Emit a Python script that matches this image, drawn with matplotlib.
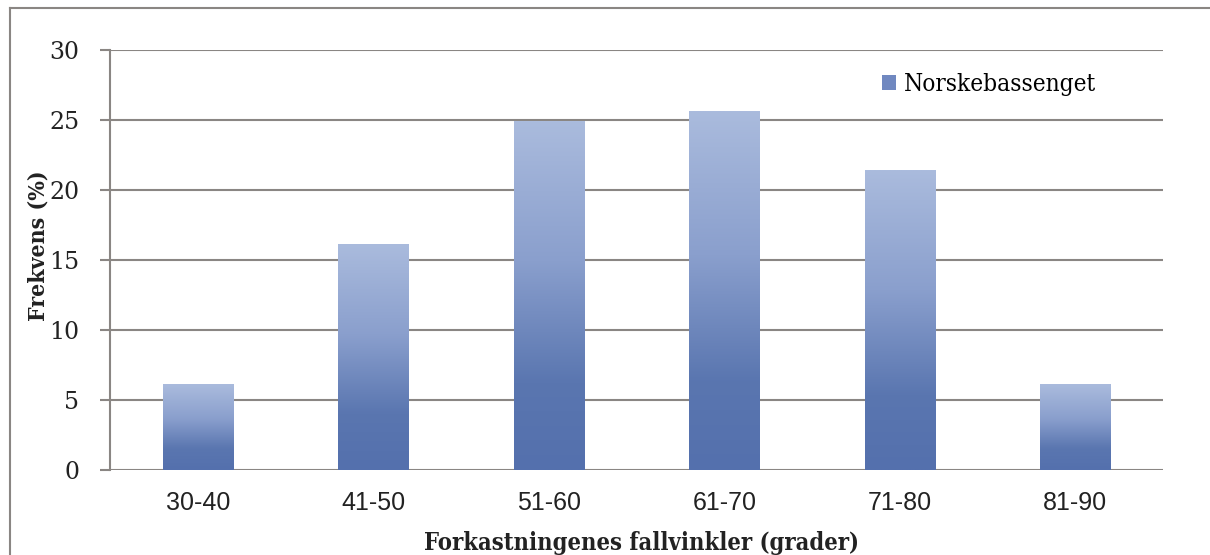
import numpy as np
import matplotlib
matplotlib.use("Agg")
import matplotlib.pyplot as plt
from matplotlib.colors import LinearSegmentedColormap
from matplotlib.lines import Line2D
from matplotlib.patches import Patch
from matplotlib import font_manager

categories = ["30-40", "41-50", "51-60", "61-70", "71-80", "81-90"]
values = [6.1, 16.1, 24.9, 25.6, 21.4, 6.1]
series_name = "Norskebassenget"
yticks = [0, 5, 10, 15, 20, 25, 30]

has_cond = any(f.name == "DejaVu Serif" and f.stretch == "condensed"
               for f in font_manager.fontManager.ttflist)
stretch = "condensed" if has_cond else "normal"

W, H = 1210, 555
fig = plt.figure(figsize=(W / 100, H / 100), dpi=100)
fig.patch.set_facecolor("white")
ax = fig.add_axes([110 / W, 1 - 470 / H, (1163 - 110) / W, (470 - 50) / H])

serif = ["DejaVu Serif"]
grid_col = "#8a8683"
txt = "#222222"

cmap = LinearSegmentedColormap.from_list(
    "grad", [(0.0, "#5470ad"), (0.25, "#5a76b0"), (0.6, "#8a9fcd"), (1.0, "#aabbdd")])
grad = np.linspace(0, 1, 256).reshape(-1, 1)

x = np.arange(len(categories))
bw = 0.4
bars = ax.bar(x, values, width=bw, color="none", zorder=3)
for b in bars:
    x0, y0 = b.get_x(), b.get_y()
    ax.imshow(grad, cmap=cmap, origin="lower", aspect="auto",
              extent=[x0, x0 + b.get_width(), y0, y0 + b.get_height()],
              zorder=3, interpolation="bilinear")

ax.set_xlim(-0.5, len(categories) - 0.5)
ax.set_ylim(0, 30)
ax.set_yticks(yticks)
ax.set_yticklabels([str(t) for t in yticks], fontfamily=serif, fontsize=17, color=txt)
ax.set_xticks(x)
ax.set_xticklabels(categories, fontfamily=["Liberation Sans"], fontsize=18, color=txt)
ax.tick_params(axis="x", length=0, pad=15)
ax.tick_params(axis="y", length=7, width=1.5, color=grid_col, pad=15)
ax.yaxis.grid(True, color=grid_col, linewidth=1.5, zorder=1)
ax.set_axisbelow(True)
for s in ["top", "right", "bottom"]:
    ax.spines[s].set_visible(False)
ax.spines["left"].set_color(grid_col)
ax.spines["left"].set_linewidth(1.5)

ax.set_ylabel("Frekvens (%)", fontfamily=serif, fontweight="bold", fontsize=16.5,
              fontstretch=stretch, color=txt)
ax.yaxis.set_label_coords(-60 / 1053, 0.535)
ax.set_xlabel("Forkastningenes fallvinkler (grader)", fontfamily=serif,
              fontweight="bold", fontsize=17, fontstretch=stretch, color=txt)
ax.xaxis.set_label_coords(0.505, -61 / 420)

handle = Patch(facecolor="#7088c0", edgecolor="none")
ax.legend([handle], [series_name], loc="upper left",
          bbox_to_anchor=(750 / 1053, 1.0 - 1 / 420),
          frameon=False, prop={"family": serif, "size": 17.5, "stretch": stretch},
          handlelength=0.6, handleheight=0.6, handletextpad=0.3)

# outer chart border (top and left visible)
fig.add_artist(Line2D([10 / W, 1.0], [1 - 8 / H, 1 - 8 / H], color="#8a8683", lw=1.5,
                      transform=fig.transFigure))
fig.add_artist(Line2D([10 / W, 10 / W], [0.0, 1 - 8 / H], color="#8a8683", lw=1.5,
                      transform=fig.transFigure))

fig.savefig("out.png", dpi=100)
